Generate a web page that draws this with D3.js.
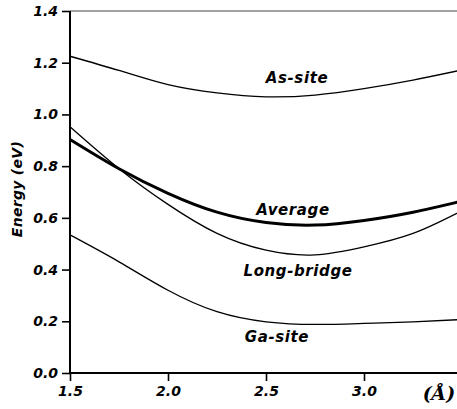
<!DOCTYPE html>
<html><head><meta charset="utf-8">
<script src="https://cdn.jsdelivr.net/npm/d3@7"></script>
<style>
html,body{margin:0;padding:0;background:#fff;}
text{font-family:"DejaVu Sans",sans-serif;font-weight:bold;font-style:italic;fill:#000;}
</style></head>
<body>
<svg id="chart" width="457" height="409"></svg>
<script>
const xValues = [1.5, 1.75, 2.0, 2.25, 2.5, 2.75, 3.0, 3.25, 3.5];
const asSite = [1.225, 1.17, 1.115, 1.083, 1.068, 1.075, 1.10, 1.133, 1.172];
const average = [0.903, 0.79, 0.695, 0.622, 0.582, 0.572, 0.59, 0.622, 0.665];
const longBridge = [0.952, 0.79, 0.652, 0.54, 0.475, 0.457, 0.488, 0.54, 0.628];
const gaSite = [0.534, 0.43, 0.32, 0.237, 0.198, 0.188, 0.192, 0.198, 0.207];
const xTicks = [1.5, 2.0, 2.5, 3.0];
const yTicks = [0.0, 0.2, 0.4, 0.6, 0.8, 1.0, 1.2, 1.4];
const seriesNames = ["As-site", "Average", "Long-bridge", "Ga-site"];

const svg = d3.select("#chart");
const mLeft = 70, mRight = 462, mTop = 11, mBottom = 373;
const x = d3.scaleLinear().domain([1.5, 3.5]).range([mLeft, mRight]);
const y = d3.scaleLinear().domain([0, 1.4]).range([mBottom, mTop]);

svg.append("line").attr("x1", mLeft).attr("x2", 457).attr("y1", y(1.4)).attr("y2", y(1.4))
  .attr("stroke", "#444").attr("stroke-width", 1.2);

const fmt = d3.format(".1f");
const yAxis = svg.append("g").attr("transform", `translate(${mLeft},0)`)
  .call(d3.axisLeft(y).tickValues(yTicks).tickFormat(fmt).tickSize(8).tickPadding(4));
const xAxis = svg.append("g").attr("transform", `translate(0,${mBottom})`)
  .call(d3.axisBottom(x).tickValues(xTicks).tickFormat(fmt).tickSize(8).tickPadding(5));
[yAxis, xAxis].forEach(g => {
  g.select(".domain").attr("stroke", "#000").attr("stroke-width", 2);
  g.selectAll(".tick line").attr("stroke", "#000").attr("stroke-width", 1.6);
  g.selectAll(".tick text").style("font-size", "14px").style("font-family", "DejaVu Sans")
    .style("font-weight", "bold").style("font-style", "italic").attr("fill", "#000");
});
xAxis.select(".domain").attr("d", `M${mLeft},0H457`);
yAxis.select(".domain").attr("d", `M0,${y(1.4)}V${mBottom}`);

const line = d3.line().x((d, i) => x(xValues[i])).y(d => y(d)).curve(d3.curveNatural);
const series = [asSite, average, longBridge, gaSite];
const widths = [1.3, 3, 1.3, 1.3];
series.forEach((s, i) => {
  svg.append("path").datum(s).attr("d", line).attr("fill", "none")
    .attr("stroke", "#000").attr("stroke-width", widths[i]);
});

const labelPos = [[297, 83], [293, 215], [298, 276], [277, 342]];
seriesNames.forEach((n, i) => {
  svg.append("text").attr("x", labelPos[i][0]).attr("y", labelPos[i][1])
    .attr("text-anchor", "middle").style("font-size", "15px").style("letter-spacing", "0.6px").text(n);
});

svg.append("text").attr("transform", "translate(22,189) rotate(-90)")
  .attr("text-anchor", "middle").style("font-size", "14px").style("letter-spacing", "0.3px").text("Energy (eV)");
svg.append("text").attr("x", 439).attr("y", 400).attr("text-anchor", "middle")
  .style("font-family", "DejaVu Serif").style("font-size", "19px").text("(Å)");
</script>
</body></html>
